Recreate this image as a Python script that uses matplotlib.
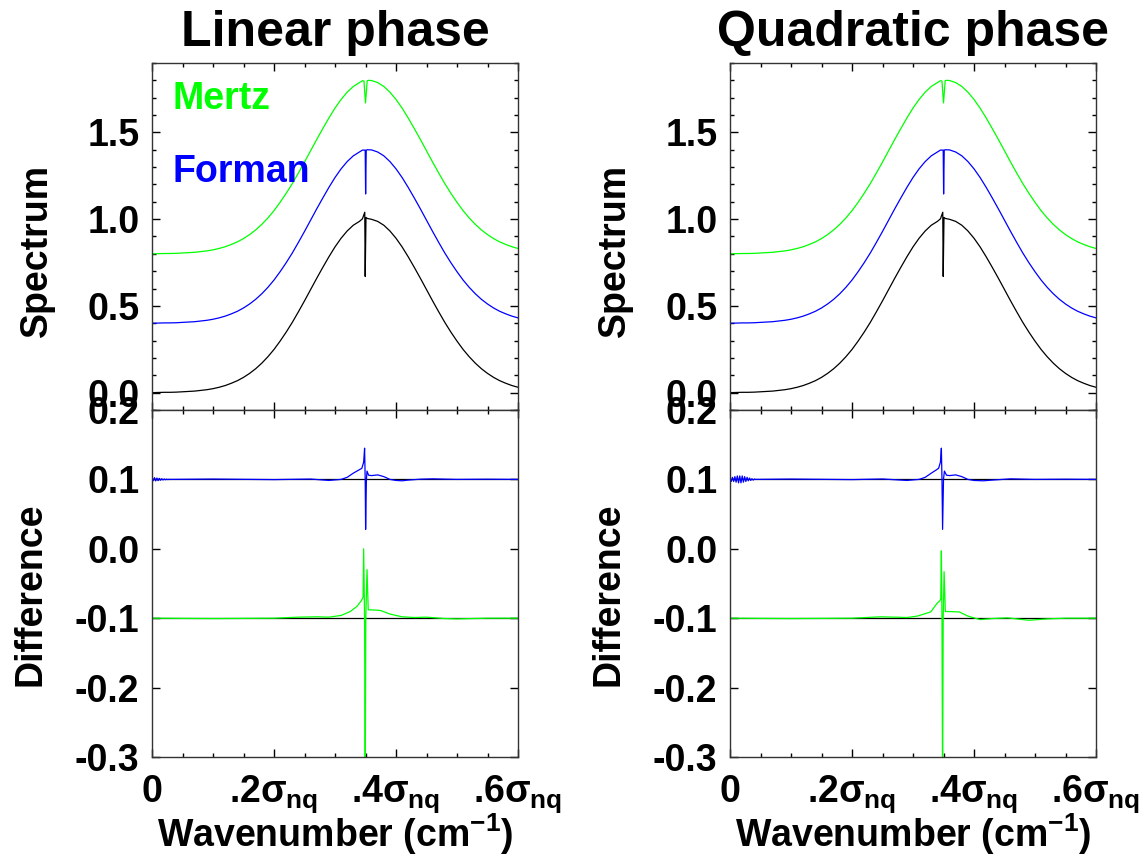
import matplotlib
matplotlib.use('Agg')
import matplotlib.pyplot as plt
from matplotlib.ticker import MultipleLocator, FixedLocator, FixedFormatter

plt.rcParams.update({
    'font.family': 'Liberation Sans',
    'font.weight': 'bold',
    'mathtext.fontset': 'custom',
    'mathtext.rm': 'Liberation Sans:bold',
    'mathtext.bf': 'Liberation Sans:bold',
    'mathtext.it': 'Liberation Sans',
})

# ---------------- data ----------------
titles = ['Linear phase', 'Quadratic phase']

# smooth part of the spectrum (true spectrum), left and right of the narrow line
wn_left = [0.00, 0.01, 0.02, 0.03, 0.04, 0.05, 0.06, 0.07, 0.08, 0.09,
           0.10, 0.11, 0.12, 0.13, 0.14, 0.15, 0.16, 0.17, 0.18, 0.19,
           0.20, 0.21, 0.22, 0.23, 0.24, 0.25, 0.26, 0.27, 0.28, 0.29,
           0.30, 0.31, 0.32, 0.33, 0.34]
spec_left = [0.000, 0.001, 0.002, 0.002, 0.003, 0.005, 0.007, 0.009, 0.013, 0.017,
             0.023, 0.031, 0.041, 0.054, 0.069, 0.088, 0.111, 0.138, 0.170, 0.207,
             0.249, 0.297, 0.349, 0.405, 0.466, 0.529, 0.594, 0.659, 0.722, 0.783,
             0.840, 0.890, 0.932, 0.965, 0.987]
wn_right = [0.36, 0.37, 0.38, 0.39, 0.40, 0.41, 0.42, 0.43, 0.44, 0.45,
            0.46, 0.47, 0.48, 0.49, 0.50, 0.51, 0.52, 0.53, 0.54, 0.55,
            0.56, 0.57, 0.58, 0.59, 0.60]
spec_right = [0.999, 0.987, 0.965, 0.932, 0.890, 0.840, 0.783, 0.722, 0.659, 0.594,
              0.529, 0.466, 0.405, 0.349, 0.297, 0.249, 0.207, 0.170, 0.138, 0.111,
              0.088, 0.069, 0.054, 0.041, 0.031]

# narrow line region for each spectrum
true_line_x = [0.345, 0.3488, 0.3495, 0.3508, 0.353]
true_line_y = [1.002, 1.040, 0.670, 1.010, 1.004]
forman_line_x = [0.345, 0.3495, 0.3502, 0.3512, 0.353]
forman_line_y = [0.998, 0.998, 0.745, 0.998, 1.000]
mertz_line_x = [0.345, 0.3475, 0.3500, 0.3528, 0.355]
mertz_line_y = [0.998, 0.996, 0.870, 0.998, 1.000]

forman_offset = 0.4
mertz_offset = 0.8
forman_diff_offset = 0.1
mertz_diff_offset = -0.1

# differences (linear phase)
lin_forman_dx = [0.000, 0.002, 0.004, 0.006, 0.008, 0.010, 0.012, 0.014, 0.016, 0.018,
                 0.020, 0.022, 0.024, 0.026, 0.028, 0.030, 0.10, 0.20, 0.26, 0.29,
                 0.31, 0.32, 0.33, 0.338, 0.344, 0.347, 0.3485, 0.3495, 0.3502, 0.3515,
                 0.3525, 0.355, 0.36, 0.37, 0.38, 0.39, 0.40, 0.41, 0.42, 0.44,
                 0.46, 0.50, 0.55, 0.60]
lin_forman_dy = [0.002, -0.002, 0.0025, -0.0022, 0.002, -0.0018, 0.0015, -0.0012, 0.001, -0.0008,
                 0.0006, -0.0005, 0.0004, -0.0003, 0.0002, 0.000, 0.0005, -0.0003, 0.0005, -0.0015,
                 0.000, 0.003, 0.009, 0.013, 0.016, 0.025, 0.045, 0.000, -0.072, 0.000,
                 0.012, 0.006, 0.0055, 0.0065, 0.004, 0.000, -0.0015, -0.002, -0.001, 0.0003,
                 0.0008, 0.000, 0.0003, 0.000]
lin_mertz_dx = [0.00, 0.10, 0.20, 0.24, 0.27, 0.29, 0.31, 0.325, 0.336, 0.343,
                0.346, 0.347, 0.3485, 0.3495, 0.3505, 0.3525, 0.3545, 0.36, 0.37, 0.375,
                0.39, 0.41, 0.43, 0.45, 0.48, 0.50, 0.55, 0.60]
lin_mertz_dy = [0.000, -0.0005, 0.000, 0.0015, 0.002, 0.0015, 0.004, 0.0096, 0.017, 0.025,
                0.030, 0.100, 0.000, -0.250, 0.000, 0.070, 0.012, 0.012, 0.0115, 0.011,
                0.006, 0.002, 0.001, 0.0015, -0.0005, -0.001, 0.000, 0.000]

# differences (quadratic phase)
quad_forman_dx = [0.000, 0.002, 0.004, 0.006, 0.008, 0.010, 0.012, 0.014, 0.016, 0.018,
                  0.020, 0.022, 0.024, 0.026, 0.028, 0.030, 0.032, 0.034, 0.036, 0.038,
                  0.040, 0.042, 0.10, 0.20, 0.25, 0.29, 0.31, 0.32, 0.33, 0.337,
                  0.342, 0.345, 0.3465, 0.3475, 0.3485, 0.3500, 0.3515, 0.355, 0.36, 0.37,
                  0.38, 0.39, 0.40, 0.415, 0.43, 0.46, 0.50, 0.55, 0.60]
quad_forman_dy = [0.002, -0.003, 0.003, -0.003, 0.004, -0.004, 0.005, -0.005, 0.005, -0.005,
                  0.005, -0.004, 0.004, -0.003, 0.003, -0.002, 0.002, -0.0015, 0.001, -0.001,
                  0.0005, 0.000, 0.0005, -0.0003, 0.0006, -0.0015, 0.000, 0.003, 0.009, 0.013,
                  0.016, 0.025, 0.045, 0.000, -0.072, 0.000, 0.012, 0.006, 0.0055, 0.0065,
                  0.004, 0.000, -0.0015, -0.002, -0.001, 0.0008, 0.000, 0.0003, 0.000]
quad_mertz_dx = [0.00, 0.10, 0.20, 0.247, 0.27, 0.29, 0.307, 0.329, 0.340, 0.344,
                 0.3455, 0.3465, 0.3475, 0.3485, 0.3495, 0.351, 0.353, 0.36, 0.376, 0.39,
                 0.41, 0.43, 0.455, 0.49, 0.52, 0.55, 0.60]
quad_mertz_dy = [0.000, -0.0005, 0.000, 0.002, 0.0015, 0.001, 0.003, 0.009, 0.022, 0.025,
                 0.028, 0.097, 0.000, -0.250, 0.000, 0.067, 0.0096, 0.0096, 0.0090, 0.003,
                 -0.002, -0.0005, 0.0005, -0.003, -0.001, 0.000, 0.000]

diff_data = [(lin_forman_dx, lin_forman_dy, lin_mertz_dx, lin_mertz_dy),
             (quad_forman_dx, quad_forman_dy, quad_mertz_dx, quad_mertz_dy)]

x_ticks = [0.0, 0.2, 0.4, 0.6]
x_ticklabels = ['0', r'.2$\sigma_{\mathbf{nq}}$', r'.4$\sigma_{\mathbf{nq}}$', r'.6$\sigma_{\mathbf{nq}}$']
spec_yticks = [0.0, 0.5, 1.0, 1.5]
spec_yticklabels = ['0.0', '0.5', '1.0', '1.5']
diff_yticks = [-0.3, -0.2, -0.1, 0.0, 0.1, 0.2]
diff_yticklabels = ['-0.3', '-0.2', '-0.1', '0.0', '0.1', '0.2']

GREEN = '#00ff00'
BLUE = '#0000ff'
FS = 27
LW = 0.9

fig = plt.figure(figsize=(11.48, 8.59), dpi=100)
W, H = 1148.0, 859.0
lefts = [152, 730]
axw = 366
spec_top, mid, diff_bot = 63, 410, 757


def style(ax):
    ax.tick_params(which='both', direction='in', top=True, right=True,
                   width=1.0, color='black', labelsize=FS)
    ax.tick_params(which='major', length=5.5, pad=9)
    ax.tick_params(which='minor', length=2.6)
    for s in ax.spines.values():
        s.set_linewidth(1.0)
        s.set_color('#333333')
    ax.set_xlim(0.0, 0.6)
    ax.xaxis.set_major_locator(FixedLocator(x_ticks))
    ax.xaxis.set_minor_locator(MultipleLocator(0.05))


true_x = wn_left + true_line_x + wn_right
true_y = spec_left + true_line_y + spec_right
forman_x = wn_left + forman_line_x + wn_right
forman_y = [v + forman_offset for v in spec_left + forman_line_y + spec_right]
mertz_x = wn_left + mertz_line_x + wn_right
mertz_y = [v + mertz_offset for v in spec_left + mertz_line_y + spec_right]

for i in range(2):
    l = lefts[i] / W
    axs = fig.add_axes([l, (H - mid) / H, axw / W, (mid - spec_top) / H])
    axd = fig.add_axes([l, (H - diff_bot) / H, axw / W, (diff_bot - mid) / H])

    # spectrum panel
    style(axs)
    axs.plot(true_x, true_y, color='black', lw=LW)
    axs.plot(forman_x, forman_y, color=BLUE, lw=LW)
    axs.plot(mertz_x, mertz_y, color=GREEN, lw=LW)
    axs.set_ylim(-0.1, 1.9)
    axs.yaxis.set_major_locator(FixedLocator(spec_yticks))
    axs.yaxis.set_major_formatter(FixedFormatter(spec_yticklabels))
    axs.yaxis.set_minor_locator(MultipleLocator(0.1))
    axs.set_xticklabels([])
    axs.set_ylabel('Spectrum', fontsize=FS, fontweight='bold')
    axs.yaxis.set_label_coords(-0.265, 0.46)
    axs.set_title(titles[i], fontsize=36, fontweight='bold', pad=12)
    if i == 0:
        axs.text(0.033, 1.69, 'Mertz', color=GREEN, fontsize=FS, fontweight='bold',
                 va='center', ha='left')
        axs.text(0.033, 1.27, 'Forman', color=BLUE, fontsize=FS, fontweight='bold',
                 va='center', ha='left')

    # difference panel
    style(axd)
    fdx, fdy, mdx, mdy = diff_data[i]
    axd.plot([0.0, 0.6], [forman_diff_offset, forman_diff_offset], color='black', lw=LW)
    axd.plot([0.0, 0.6], [mertz_diff_offset, mertz_diff_offset], color='black', lw=LW)
    axd.plot(fdx, [v + forman_diff_offset for v in fdy], color=BLUE, lw=LW)
    axd.plot(mdx, [v + mertz_diff_offset for v in mdy], color=GREEN, lw=LW)
    axd.set_ylim(-0.3, 0.2)
    axd.yaxis.set_major_locator(FixedLocator(diff_yticks))
    axd.yaxis.set_major_formatter(FixedFormatter(diff_yticklabels))
    axd.xaxis.set_major_formatter(FixedFormatter(x_ticklabels))
    axd.tick_params(axis='x', which='major', pad=12)
    axd.set_ylabel('Difference', fontsize=FS, fontweight='bold')
    axd.yaxis.set_label_coords(-0.284, 0.47)
    axd.set_xlabel('Wavenumber (cm$^{\\mathbf{-1}}$)', fontsize=FS, fontweight='bold',
                   labelpad=-3)
    for lab in axs.get_yticklabels() + axd.get_yticklabels() + axd.get_xticklabels():
        lab.set_fontweight('bold')

fig.savefig('out.png', dpi=100)
